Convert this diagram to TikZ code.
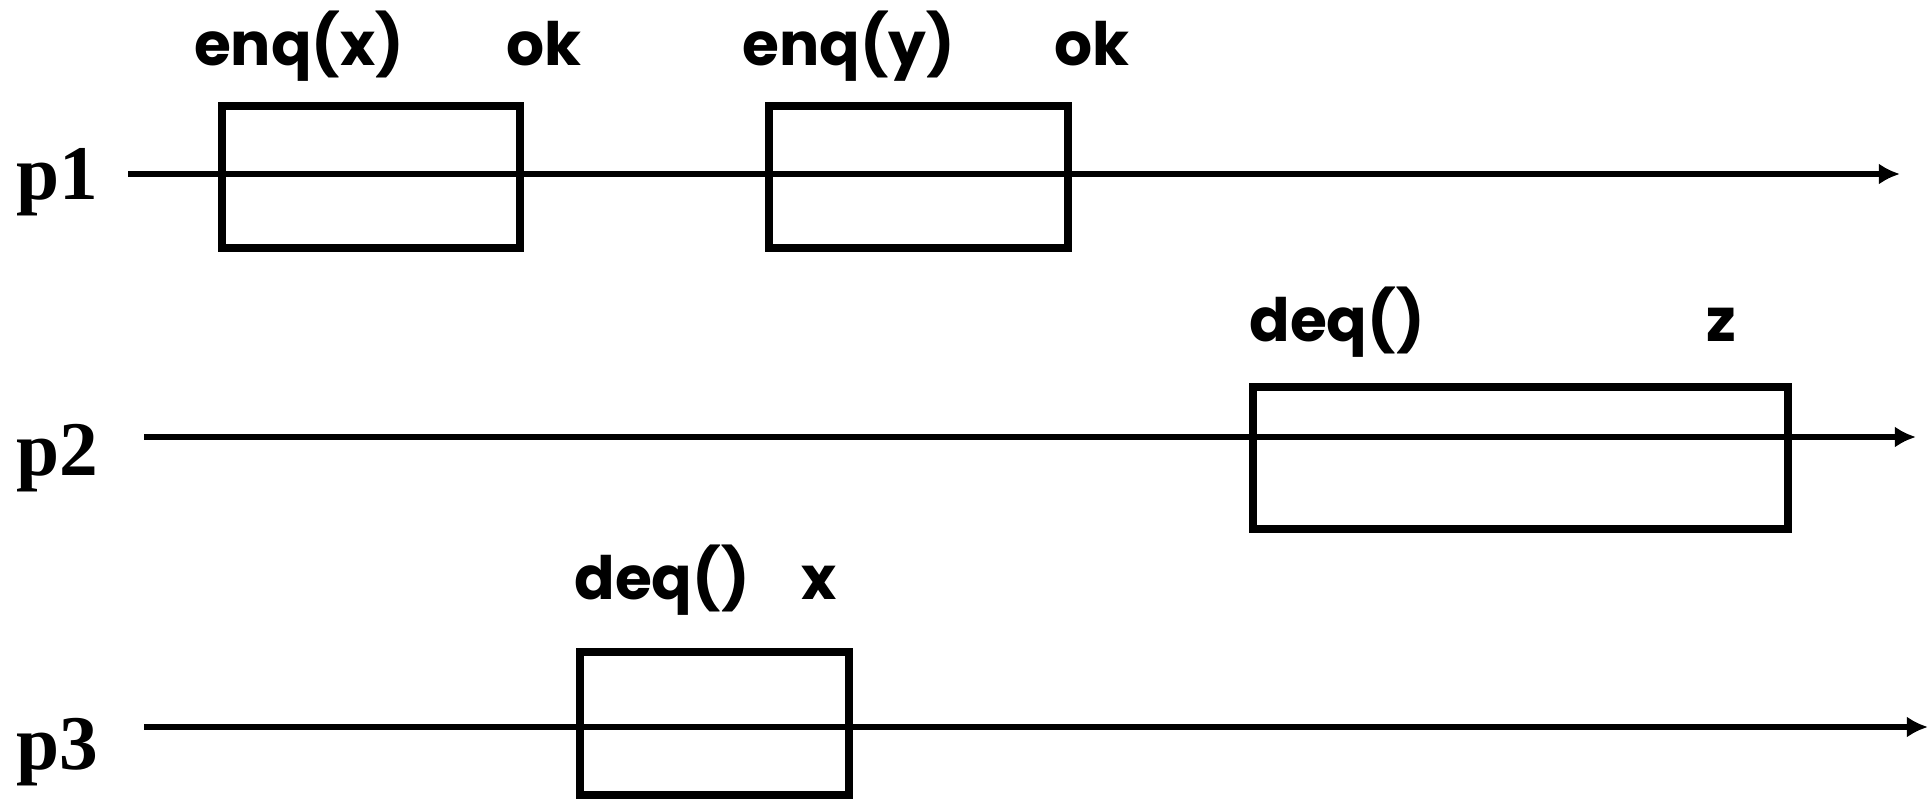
\documentclass[tikz,border=0pt]{standalone}
\usepackage{fontspec}
\setmainfont{Liberation Serif}
\newfontfamily\opfont{Poppins}
\usetikzlibrary{arrows.meta}

\begin{document}
\begin{tikzpicture}[x=0.01cm, y=-0.01cm,
    timeline/.style={line width=1.7pt, -{Latex[length=6pt,width=6pt]}},
    opbox/.style={draw, line width=2pt, inner sep=0pt},
    proc/.style={anchor=base west, inner sep=0pt, font=\fontsize{22}{22}\selectfont\bfseries},
    op/.style={anchor=base, font=\fontsize{17}{17}\selectfont\opfont\bfseries}]
\useasboundingbox (0,0) rectangle (1932,810);
% process names
\node[proc] (p1) at (16,200) {p1};
\node[proc] (p2) at (16,476) {p2};
\node[proc] (p3) at (16,770) {p3};
% time lines
\coordinate (s1) at (128,174);  \coordinate (e1) at (1900,174);
\coordinate (s2) at (144,437);  \coordinate (e2) at (1916,437);
\coordinate (s3) at (144,727);  \coordinate (e3) at (1928,727);
\draw [timeline] (s1) -- (e1);
\draw [timeline] (s2) -- (e2);
\draw [timeline] (s3) -- (e3);
% operation intervals
\draw [opbox] (222,106) rectangle (520,248);
\draw [opbox] (769,106) rectangle (1068,248);
\draw [opbox] (1253,387) rectangle (1788,529);
\draw [opbox] (580,652) rectangle (849,795);
% calls and responses
\node[op] (c1) at (299,66) {enq(x)};
\node[op] (r1) at (544,66) {ok};
\node[op] (c2) at (849,66) {enq(y)};
\node[op] (r2) at (1092,66) {ok};
\node[op] (c3) at (1337,342) {deq()};
\node[op] (r3) at (1721,342) {z};
\node[op] (c4) at (662,600) {deq()};
\node[op] (r4) at (819,600) {x};
\end{tikzpicture}
\end{document}
